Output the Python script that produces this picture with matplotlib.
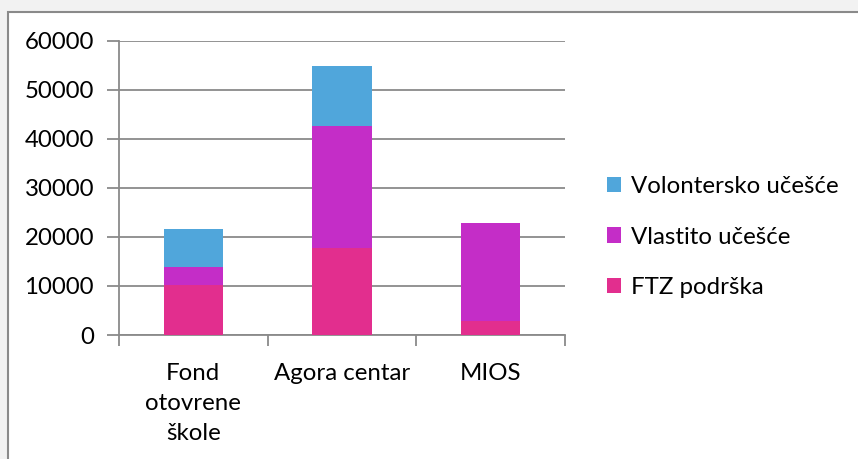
import matplotlib
matplotlib.use("Agg")
import matplotlib.pyplot as plt
from matplotlib.patches import Rectangle, Patch
import numpy as np

categories = ["Fond\notovrene\nškole", "Agora centar", "MIOS"]
ftz = [10100, 17700, 2800]
vlastito = [3800, 25000, 20100]
volontersko = [7700, 12100, 0]
series_names = ["FTZ podrška", "Vlastito učešće", "Volontersko učešće"]
colors = ["#E22E8E", "#C42DC7", "#50A6DB"]
yticks = [0, 10000, 20000, 30000, 40000, 50000, 60000]

plt.rcParams['font.family'] = ['Lato', 'DejaVu Sans']
FS = 17.3
W, H = 858, 459
fig = plt.figure(figsize=(W/100, H/100), dpi=100)
fig.patch.set_facecolor("#f2f2f2")
fig.patches.append(Rectangle((8/W, -0.1), 1.2, 1.1 - 12/H, transform=fig.transFigure,
                             facecolor="white", edgecolor="#8a8a8a", linewidth=1.5, zorder=-5))

ax = fig.add_axes([119/W, 1 - 335/H, (565-119)/W, (335-40.7)/H])
ax.set_facecolor("none")
ax.set_zorder(2)
x = np.arange(len(categories))
bottom = np.zeros(len(categories))
for vals, name, c in zip([ftz, vlastito, volontersko], series_names, colors):
    ax.bar(x, vals, width=0.4, bottom=bottom, color=c, label=name, zorder=3)
    bottom += np.array(vals)

ax.set_ylim(0, 60000)
ax.set_xlim(-0.5, 2.5)
ax.set_yticks(yticks)
ax.set_yticklabels([str(v) for v in yticks], fontsize=FS)
ax.yaxis.grid(True, color="#8a8a8a", linewidth=1.3, zorder=0)
ax.set_axisbelow(True)
ax.tick_params(axis='y', length=9, width=1.3, color="#8a8a8a", pad=9)
ax.set_xticks([-0.5, 0.5, 1.5, 2.5])
ax.set_xticklabels([])
ax.tick_params(axis='x', length=8, width=1.3, color="#8a8a8a")
ax.set_xticks(x, minor=True)
ax.set_xticklabels(categories, minor=True, fontsize=FS, linespacing=1.55, va='top')
ax.tick_params(axis='x', which='minor', length=0, pad=20)
for s in ["top", "right"]:
    ax.spines[s].set_visible(False)
for s in ["left", "bottom"]:
    ax.spines[s].set_color("#8a8a8a")
    ax.spines[s].set_linewidth(1.3)

handles = [Patch(facecolor=c, label=n) for n, c in zip(series_names, colors)][::-1]
fig.legend(handles=handles, loc="center left", bbox_to_anchor=(607/W, 1 - 237/H),
           frameon=False, fontsize=FS, handlelength=0.6, handleheight=0.6,
           handletextpad=0.4, labelspacing=1.22, borderaxespad=0, borderpad=0)

fig.savefig("out.png", dpi=100, facecolor=fig.get_facecolor())
